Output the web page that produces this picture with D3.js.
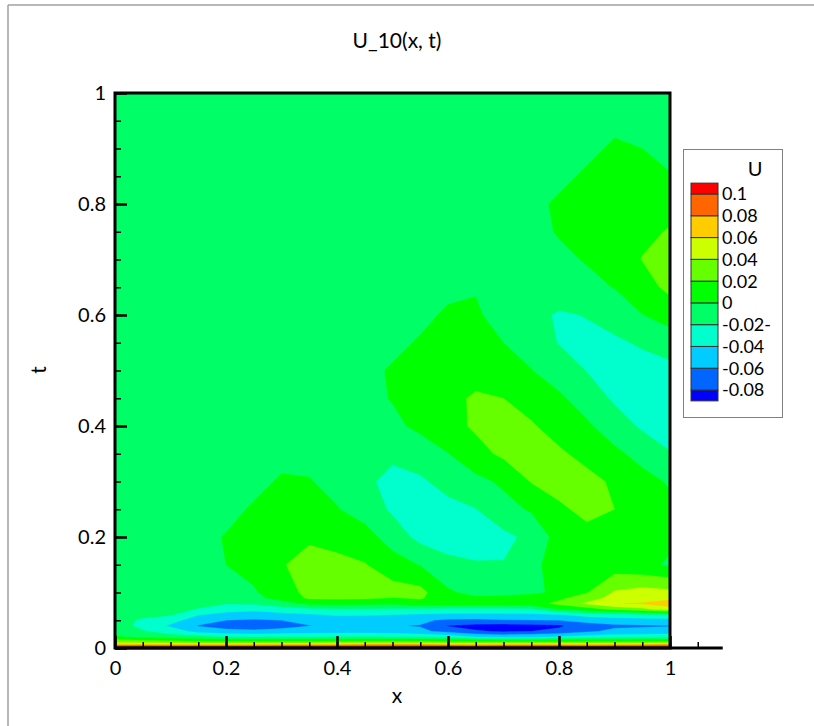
<!DOCTYPE html>
<html>
<head>
<meta charset="utf-8">
<script src="https://cdn.jsdelivr.net/npm/d3@7"></script>
<style>
body { margin: 0; background: #fff; }
text { font-family: Lato, "Liberation Sans", sans-serif; fill: #000; }
</style>
</head>
<body>
<div id="chart"></div>
<script>
var svgWidth = 814;
var svgHeight = 726;
var plotLeft = 115, plotRight = 670;	// x = 0 .. 1
var plotTop = 93, plotBottom = 648;		// t = 1 .. 0

// text
var titleText = "U_10(x, t)";
var xAxisTitleText = "x";
var yAxisTitleText = "t";
var legendTitleText = "U";

// grid positions of the field
var xValues = [0, 0.05, 0.1, 0.15, 0.2, 0.25, 0.3, 0.35, 0.4, 0.45, 0.5, 0.55, 0.6, 0.65, 0.7, 0.75, 0.8, 0.85, 0.9, 0.95, 1];
var tValues = [1, 0.95, 0.9, 0.85, 0.8, 0.75, 0.7, 0.65, 0.6, 0.55, 0.5, 0.45, 0.4, 0.35, 0.3, 0.25, 0.2, 0.15, 0.1,
	0.09, 0.08, 0.07, 0.06, 0.05, 0.04, 0.03, 0.02, 0.01, 0.005, 0];

// U(x, t) in hundredths, one row per t value (first row is t = 1)
var uRows = [
	[-0.5,-0.5,-0.5,-0.5,-0.5,-0.5,-0.5,-0.5,-0.5,-0.5,-0.5,-0.5,-0.5,-0.5,-0.5,-0.5,-0.5,-0.5,-0.5,-0.5,-0.5],
	[-0.5,-0.5,-0.5,-0.5,-0.5,-0.5,-0.5,-0.5,-0.5,-0.5,-0.5,-0.5,-0.5,-0.5,-0.5,-0.5,-0.5,-0.5,-0.5,-0.5,-0.5],
	[-0.5,-0.5,-0.5,-0.5,-0.5,-0.5,-0.5,-0.5,-0.5,-0.5,-0.5,-0.5,-0.5,-0.5,-0.5,-0.5,-0.5,-0.5,0.3,0.0,-0.5],
	[-0.5,-0.5,-0.5,-0.5,-0.5,-0.5,-0.5,-0.5,-0.5,-0.5,-0.5,-0.5,-0.5,-0.5,-0.5,-0.5,-0.5,0.3,1.0,1.0,0.1],
	[-0.5,-0.5,-0.5,-0.5,-0.5,-0.5,-0.5,-0.5,-0.5,-0.5,-0.5,-0.5,-0.5,-0.5,-0.5,-0.5,0.3,1.0,1.2,1.4,1.6],
	[-0.5,-0.5,-0.5,-0.5,-0.5,-0.5,-0.5,-0.5,-0.5,-0.5,-0.5,-0.5,-0.5,-0.5,-0.5,-0.4,0.1,0.9,1.3,1.7,2.1],
	[-0.5,-0.5,-0.5,-0.5,-0.5,-0.5,-0.5,-0.5,-0.5,-0.5,-0.5,-0.5,-0.5,-0.5,-0.5,-0.5,-0.3,0.1,1.2,2.05,2.6],
	[-0.5,-0.5,-0.5,-0.5,-0.5,-0.5,-0.5,-0.5,-0.5,-0.5,-0.5,-0.5,-0.5,-0.1,-0.5,-0.5,-0.5,-0.4,0.05,1.2,2.5],
	[-0.5,-0.5,-0.5,-0.5,-0.5,-0.5,-0.5,-0.5,-0.5,-0.5,-0.5,-0.5,0.3,0.2,-0.6,-1.2,-2.3,-1.9,-1.0,-0.05,0.8],
	[-0.5,-0.5,-0.5,-0.5,-0.5,-0.5,-0.5,-0.5,-0.5,-0.5,-0.5,0.2,0.6,0.5,0.0,-0.8,-2.1,-2.6,-2.4,-1.7,-1.0],
	[-0.5,-0.5,-0.5,-0.5,-0.5,-0.5,-0.5,-0.5,-0.5,-0.5,0.2,0.8,1.0,1.4,1.2,0.05,-0.9,-2.05,-2.8,-3.0,-2.6],
	[-0.5,-0.5,-0.5,-0.5,-0.5,-0.5,-0.5,-0.5,-0.5,-0.5,0.1,0.9,1.6,2.2,2.0,1.2,0.3,-0.9,-2.3,-3.0,-3.0],
	[-0.5,-0.5,-0.5,-0.5,-0.5,-0.5,-0.5,-0.5,-0.5,-0.6,-0.4,0.4,1.3,2.3,2.6,2.2,1.2,0.3,-1.0,-2.3,-2.9],
	[-0.5,-0.5,-0.5,-0.5,-0.5,-0.5,-0.5,-0.5,-0.5,-0.8,-1.6,-1.0,-0.05,1.3,2.4,2.7,2.3,1.4,0.4,-0.6,-1.9],
	[-0.5,-0.5,-0.5,-0.5,-0.5,-0.5,0.2,0.1,-0.6,-1.6,-2.6,-2.3,-1.3,-0.5,0.3,2.1,2.9,2.6,1.7,0.6,-0.2],
	[-0.5,-0.5,-0.5,-0.5,-0.5,0.2,0.6,0.5,0.1,-0.9,-2.3,-2.9,-2.6,-2.05,-0.6,0.2,1.6,2.6,2.0,0.6,0.5],
	[-0.5,-0.5,-0.5,-0.5,0.1,0.6,1.2,1.8,1.2,0.8,-0.9,-2.6,-2.7,-2.6,-2.5,-1.5,0.8,1.3,1.2,0.6,0.3],
	[-0.5,-0.5,-0.5,-0.5,0.0,0.6,1.9,2.5,2.6,2.1,0.9,-0.1,-1.6,-1.9,-1.9,-0.3,0.5,0.8,0.9,0.4,-0.2],
	[-0.5,-0.5,-0.5,-0.5,-0.4,-0.2,1.0,2.6,3.0,3.0,2.8,2.6,0.3,-0.6,-0.6,-0.4,0.4,1.9,4.2,4.8,4.5],
	[-0.5,-0.5,-0.5,-0.6,-0.8,-0.5,0.6,2.3,2.4,2.3,1.9,2.2,0.8,0.3,0.5,0.9,1.6,3.0,4.7,5.0,5.5],
	[-0.5,-0.5,-0.5,-1.0,-1.9,-1.8,-0.8,0.4,0.5,0.4,0.3,1.2,0.8,0.8,0.9,1.2,2.5,4.3,5.9,6.2,7.0],
	[-0.6,-0.7,-0.8,-2.2,-3.3,-3.6,-3.0,-2.4,-2.2,-2.2,-2.3,-2.4,-2.5,-2.5,-2.5,-2.4,0.0,1.0,2.5,3.5,5.0],
	[-0.7,-1.3,-1.8,-3.9,-4.6,-4.8,-4.5,-4.2,-3.8,-3.8,-4.0,-4.2,-4.4,-4.4,-4.4,-4.3,-4.2,-3.2,-2.8,-2.5,-2.3],
	[-0.9,-2.4,-3.3,-5.0,-6.0,-6.3,-6.0,-5.4,-5.0,-5.1,-5.3,-5.6,-6.4,-6.5,-6.2,-6.1,-6.0,-5.4,-5.0,-4.8,-4.6],
	[-1.0,-2.6,-4.3,-6.1,-6.9,-7.0,-6.7,-6.05,-5.6,-5.7,-5.9,-6.1,-8.1,-8.6,-8.8,-8.6,-8.3,-6.8,-6.3,-6.2,-6.1],
	[-0.8,-1.8,-3.0,-4.6,-5.3,-5.6,-5.3,-5.0,-4.8,-4.8,-5.0,-5.6,-6.6,-7.8,-8.2,-8.0,-7.4,-6.3,-5.6,-5.4,-5.2],
	[0.3,-0.5,-1.0,-1.5,-2.0,-2.2,-2.1,-2.0,-2.0,-1.9,-2.0,-2.2,-2.6,-4.0,-4.5,-4.3,-3.8,-3.2,-2.8,-2.6,-2.5],
	[4.0,3.6,3.3,3.0,3.0,3.0,3.0,3.1,3.2,3.3,3.5,3.4,3.2,3.0,3.0,3.0,3.0,3.0,3.0,3.1,3.2],
	[8.4,8.2,8.1,8.1,8.1,8.1,8.2,8.4,8.5,8.8,9.0,8.7,8.3,8.1,8.2,8.3,8.2,8.1,8.3,8.5,9.0],
	[9.5,9.2,9.0,9.0,9.0,9.0,9.2,9.4,9.6,9.9,10.1,9.8,9.3,9.0,9.2,9.3,9.2,9.0,9.3,9.6,10.1]
];

// contour levels and the flood colour above each one (bandColors[0] is below the lowest level)
var levels = [-0.08, -0.06, -0.04, -0.02, 0, 0.02, 0.04, 0.06, 0.08, 0.1];
var bandColors = ["#0000ff", "#0066ff", "#00ccff", "#00ffcc", "#00ff66", "#00ff00",
	"#66ff00", "#ccff00", "#ffcc00", "#ff6600", "#ff0000"];
var legendLabels = ["-0.08", "-0.06", "-0.04", "-0.02-", "0", "0.02", "0.04", "0.06", "0.08", "0.1"];

// ticks
var majorTicks = [0, 0.2, 0.4, 0.6, 0.8, 1];
var majorTickLabels = ["0", "0.2", "0.4", "0.6", "0.8", "1"];
var xMinorTicks = d3.range(0, 1.06, 0.05);
var tMinorTicks = d3.range(0, 1.01, 0.05);

var xScale = d3.scaleLinear().domain([0, 1]).range([plotLeft, plotRight]);
var yScale = d3.scaleLinear().domain([0, 1]).range([plotBottom, plotTop]);

var svg = d3.select("#chart")
	.append("svg")
	.attr("width", svgWidth)
	.attr("height", svgHeight);

// page frame
svg.append("line").attr("x1", 8).attr("y1", 5).attr("x2", svgWidth).attr("y2", 5)
	.attr("stroke", "#a0a0a0").attr("stroke-width", 1.5);
svg.append("line").attr("x1", 8).attr("y1", 5).attr("x2", 8).attr("y2", svgHeight)
	.attr("stroke", "#a0a0a0").attr("stroke-width", 1.5);

// title
svg.append("text")
	.attr("x", 397)
	.attr("y", 48)
	.attr("text-anchor", "middle")
	.attr("font-size", 21)
	.text(titleText);

// flood contours: grid coordinates -> (x, t) -> pixels
var values = [];
uRows.forEach(function(row) {
	row.forEach(function(v) { values.push(v / 100); });
});

function gridToValue(arr, g) {
	var k = Math.max(0, Math.min(arr.length - 1, g - 0.5));
	var i = Math.min(Math.floor(k), arr.length - 2);
	return arr[i] + (k - i) * (arr[i + 1] - arr[i]);
}

var gridProjection = d3.geoTransform({
	point: function(gx, gy) {
		this.stream.point(xScale(gridToValue(xValues, gx)), yScale(gridToValue(tValues, gy)));
	}
});
var contourPath = d3.geoPath(gridProjection);

var contours = d3.contours()
	.size([xValues.length, tValues.length])
	.thresholds(levels)(values);

var plotGroup = svg.append("g").attr("class", "flood");
plotGroup.append("rect")
	.attr("x", plotLeft)
	.attr("y", plotTop)
	.attr("width", plotRight - plotLeft)
	.attr("height", plotBottom - plotTop)
	.attr("fill", bandColors[0]);

plotGroup.selectAll("path")
	.data(contours)
	.enter().append("path")
	.attr("d", contourPath)
	.attr("fill", function(d, i) { return bandColors[i + 1]; })
	.attr("stroke", function(d, i) { return bandColors[i + 1]; })
	.attr("stroke-width", 0.3);

// axes: ticks point into the plot
var xAxisGroup = svg.append("g")
	.attr("transform", "translate(0," + plotBottom + ")");
xAxisGroup.call(d3.axisBottom(xScale)
	.tickValues(xMinorTicks)
	.tickSize(-6)
	.tickFormat(""));
var xMajor = svg.append("g")
	.attr("transform", "translate(0," + plotBottom + ")");
xMajor.call(d3.axisBottom(xScale)
	.tickValues(majorTicks)
	.tickSize(-12)
	.tickPadding(13)
	.tickFormat(function(d, i) { return majorTickLabels[i]; }));

var yAxisGroup = svg.append("g")
	.attr("transform", "translate(" + plotLeft + ",0)");
yAxisGroup.call(d3.axisLeft(yScale)
	.tickValues(tMinorTicks)
	.tickSize(-6)
	.tickFormat(""));
var yMajor = svg.append("g")
	.attr("transform", "translate(" + plotLeft + ",0)");
yMajor.call(d3.axisLeft(yScale)
	.tickValues(majorTicks)
	.tickSize(-12)
	.tickPadding(9)
	.tickFormat(function(d, i) { return majorTickLabels[i]; }));

svg.selectAll(".domain").remove();
svg.selectAll(".tick line").attr("stroke", "#000").attr("stroke-width", 1.5);
svg.selectAll(".tick text")
	.attr("font-family", "Lato, 'Liberation Sans', sans-serif")
	.attr("font-size", 20)
	.attr("fill", "#000");
xMajor.selectAll(".tick line").attr("stroke-width", 2.5);
yMajor.selectAll(".tick line").attr("stroke-width", 2.5);

// plot frame and the x axis line running past x = 1
svg.append("rect")
	.attr("x", plotLeft)
	.attr("y", plotTop)
	.attr("width", plotRight - plotLeft)
	.attr("height", plotBottom - plotTop)
	.attr("fill", "none")
	.attr("stroke", "#000")
	.attr("stroke-width", 3);
svg.append("line")
	.attr("x1", plotLeft)
	.attr("x2", xScale(1.095))
	.attr("y1", plotBottom)
	.attr("y2", plotBottom)
	.attr("stroke", "#000")
	.attr("stroke-width", 3);

// axis titles
svg.append("text")
	.attr("x", 397)
	.attr("y", 703)
	.attr("text-anchor", "middle")
	.attr("font-size", 21)
	.text(xAxisTitleText);
svg.append("text")
	.attr("transform", "translate(46,370) rotate(-90)")
	.attr("text-anchor", "middle")
	.attr("font-size", 21)
	.text(yAxisTitleText);

// legend
var legendScale = d3.scaleLinear().domain([0.1, -0.08]).range([194, 390]);
var legendGroup = svg.append("g").attr("class", "legend");
legendGroup.append("rect")
	.attr("x", 683.5)
	.attr("y", 149.5)
	.attr("width", 99)
	.attr("height", 268)
	.attr("fill", "#fff")
	.attr("stroke", "#808080")
	.attr("stroke-width", 1);
legendGroup.append("text")
	.attr("x", 755)
	.attr("y", 176)
	.attr("text-anchor", "middle")
	.attr("font-size", 20)
	.text(legendTitleText);

// band k lies between levels[k - 1] and levels[k]; the two end bands are half height
var halfStep = (levels[1] - levels[0]) / 2;
var legendBands = bandColors.map(function(c, k) {
	var lo = k === 0 ? levels[0] - halfStep : levels[k - 1];
	var hi = k === levels.length ? levels[levels.length - 1] + halfStep : levels[k];
	return { color: c, lo: lo, hi: hi };
});
legendGroup.selectAll("rect.swatch")
	.data(legendBands)
	.enter().append("rect")
	.attr("class", "swatch")
	.attr("x", 691)
	.attr("y", function(d) { return legendScale(d.hi); })
	.attr("width", 27)
	.attr("height", function(d) { return legendScale(d.lo) - legendScale(d.hi); })
	.attr("fill", function(d) { return d.color; })
	.attr("stroke", "#333")
	.attr("stroke-width", 1);
legendGroup.selectAll("text.level")
	.data(levels)
	.enter().append("text")
	.attr("class", "level")
	.attr("x", 722)
	.attr("y", function(d) { return legendScale(d); })
	.attr("dy", "0.36em")
	.attr("font-size", 18)
	.text(function(d, i) { return legendLabels[i]; });
</script>
</body>
</html>
